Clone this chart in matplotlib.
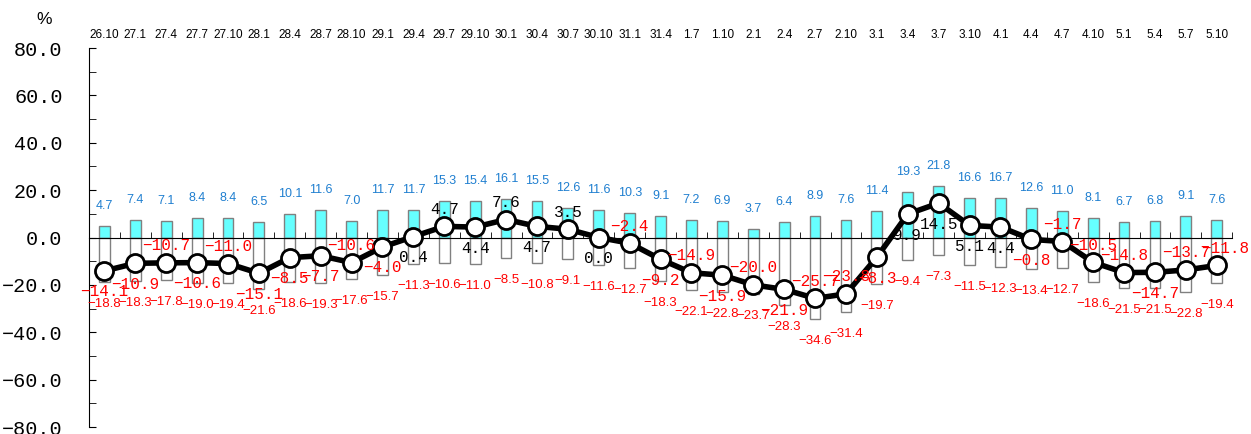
import numpy as np
import matplotlib.pyplot as plt
from matplotlib.ticker import MultipleLocator

periods = ['26.10', '27.1', '27.4', '27.7', '27.10', '28.1', '28.4', '28.7', '28.10', '29.1',
           '29.4', '29.7', '29.10', '30.1', '30.4', '30.7', '30.10', '31.1', '31.4', '1.7',
           '1.10', '2.1', '2.4', '2.7', '2.10', '3.1', '3.4', '3.7', '3.10', '4.1',
           '4.4', '4.7', '4.10', '5.1', '5.4', '5.7', '5.10']
up = [4.7, 7.4, 7.1, 8.4, 8.4, 6.5, 10.1, 11.6, 7.0, 11.7,
      11.7, 15.3, 15.4, 16.1, 15.5, 12.6, 11.6, 10.3, 9.1, 7.2,
      6.9, 3.7, 6.4, 8.9, 7.6, 11.4, 19.3, 21.8, 16.6, 16.7,
      12.6, 11.0, 8.1, 6.7, 6.8, 9.1, 7.6]
down = [-18.8, -18.3, -17.8, -19.0, -19.4, -21.6, -18.6, -19.3, -17.6, -15.7,
        -11.3, -10.6, -11.0, -8.5, -10.8, -9.1, -11.6, -12.7, -18.3, -22.1,
        -22.8, -23.7, -28.3, -34.6, -31.4, -19.7, -9.4, -7.3, -11.5, -12.3,
        -13.4, -12.7, -18.6, -21.5, -21.5, -22.8, -19.4]
net = [-14.1, -10.9, -10.7, -10.6, -11.0, -15.1, -8.5, -7.7, -10.6, -4.0,
       0.4, 4.7, 4.4, 7.6, 4.7, 3.5, 0.0, -2.4, -9.2, -14.9,
       -15.9, -20.0, -21.9, -25.7, -23.8, -8.3, 9.9, 14.5, 5.1, 4.4,
       -0.8, -1.7, -10.5, -14.8, -14.7, -13.7, -11.8]

# where the net label sits: a = above the point, b = below
net_side = 'bbababbbabbababababababaabbbbbbaaabaa'

mono = ['Liberation Mono', 'DejaVu Sans Mono']
sans = ['Liberation Sans', 'DejaVu Sans']

def fmt(v):
    return f'{v:.1f}'.replace('-', '\u2212')

fig = plt.figure(figsize=(12.51, 4.34), dpi=100)
ax = fig.add_axes([0.0711, 0.0161, 0.9139, 0.8733])
x = np.arange(len(periods))

ax.bar(x, up, width=0.35, color='#66ffff', edgecolor='#808080', linewidth=1, zorder=2)
ax.bar(x, down, width=0.35, color='white', edgecolor='#808080', linewidth=1, zorder=2)
ax.plot(x, net, color='black', linewidth=4, marker='o', markersize=13,
        markerfacecolor='white', markeredgecolor='black', markeredgewidth=2, zorder=4)

for i in range(len(x)):
    ax.annotate(fmt(up[i]), (x[i], up[i]), xytext=(0, 20), textcoords='offset pixels',
                ha='center', va='center', color='#1f7fd0', fontsize=9, family=sans)
    ax.annotate(fmt(down[i]), (x[i], down[i]), xytext=(0, -22), textcoords='offset pixels',
                ha='center', va='center', color='red', fontsize=9.5, family=sans)
    dy = 17 if net_side[i] == 'a' else -21
    dx = 8 if i == len(x) - 1 else 0
    ax.annotate(fmt(net[i]), (x[i], net[i]), xytext=(dx, dy), textcoords='offset pixels',
                ha='center', va='center', color='red' if net[i] < 0 else 'black',
                fontsize=11.5, family=mono, zorder=5)

ax.set_xlim(-0.5, len(x) - 0.5)
ax.set_ylim(-80, 80)
ax.spines['top'].set_visible(False)
ax.spines['right'].set_visible(False)
ax.spines['bottom'].set_position(('data', 0))
ax.spines['bottom'].set_zorder(3)

ax.set_xticks(x, periods)
ax.set_xticks(np.arange(len(x) + 1) - 0.5, minor=True)
ax.tick_params(axis='x', which='major', length=0, labeltop=True, labelbottom=False,
               labelsize=8.5, pad=5)
ax.tick_params(axis='x', which='minor', direction='in', length=4, bottom=True, top=False)
for t in ax.get_xticklabels():
    t.set_family(sans)

ax.yaxis.set_major_locator(MultipleLocator(20))
ax.yaxis.set_minor_locator(MultipleLocator(10))
ax.tick_params(axis='y', which='both', direction='in', length=5)
ax.tick_params(axis='y', which='major', labelsize=14.5, pad=19)
ax.set_yticks(np.arange(-80, 81, 20), [fmt(v) for v in np.arange(-80, 81, 20)])
for t in ax.get_yticklabels():
    t.set_family(mono)

fig.text(44 / 1251, 1 - 20 / 434, '%', fontsize=12.5, ha='center', va='center', family=sans)

fig.savefig('out.png', dpi=100)
